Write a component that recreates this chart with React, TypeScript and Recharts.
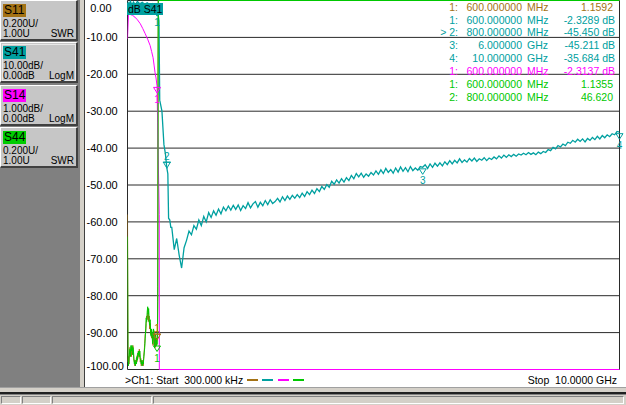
import React from 'react';
import { LineChart, Line, XAxis, YAxis, CartesianGrid, ReferenceDot } from 'recharts';

const FONT = '"Liberation Sans", Arial, sans-serif';

const C_S11 = '#a47214';
const C_S41 = '#00a0a0';
const C_S14 = '#ff00ff';
const C_S44 = '#00c800';

// ---------- channel panels ----------
const CHANNELS = [
  { name: 'S11', scale: '0.200U/', ref: '1.00U', fmt: 'SWR', color: C_S11 },
  { name: 'S41', scale: '10.00dB/', ref: '0.00dB', fmt: 'LogM', color: C_S41 },
  { name: 'S14', scale: '1.000dB/', ref: '0.00dB', fmt: 'LogM', color: C_S14 },
  { name: 'S44', scale: '0.200U/', ref: '1.00U', fmt: 'SWR', color: '#00cc00' },
];

// ---------- axes ----------
const Y_TICKS = [0, -10, -20, -30, -40, -50, -60, -70, -80, -90, -100];
const X_TICKS = [0, 1, 2, 3, 4, 5, 6, 7, 8, 9, 10];
const START_LABEL = '>Ch1: Start  300.000 kHz';
const STOP_LABEL = 'Stop  10.0000 GHz';

// ---------- S41 (dB, 10 dB/div) ----------
const S41_LOW: [number, number][] = [
  [0.0003, -0.3], [0.03, -1.0], [0.06, -0.2], [0.09, -1.3], [0.12, -0.4], [0.16, -1.1],
  [0.2, -0.3], [0.25, -0.9], [0.3, -0.5], [0.35, -1.0], [0.4, -0.6], [0.45, -1.1],
  [0.5, -0.8], [0.55, -1.4], [0.6, -2.3289], [0.625, -4], [0.64, -5.5], [0.655, -27],
  [0.7, -30], [0.74, -39], [0.77, -41.5], [0.8, -45.45], [0.82, -47], [0.835, -59],
  [0.86, -59.5], [0.88, -61.5],
];
const S41_SWEEP_START = 0.9;
const S41_SWEEP_STEP = 0.05;
const S41_SWEEP = [
  -61.5, -67.5, -64.5, -69, -72.5, -67, -65, -62.5, -63.5, -61,
  -62, -59.5, -61, -58.5, -60, -57.5, -58.8, -57, -58.2, -56.5,
  -57.8, -56, -57, -55.7, -56.8, -55.5, -56.6, -55.4, -56.9, -55.6,
  -56.4, -54.8, -56.2, -55.1, -54.5, -56, -54.7, -55.6, -54.2, -55.3,
  -54, -55, -54.5, -53.6, -54.6, -53.2, -54.2, -53, -53.9, -52.8,
  -53.6, -52.6, -53.4, -52.2, -53.1, -51.8, -52.6, -51.4, -52.3, -51,
  -51.8, -50.4, -51.2, -49.9, -50.6, -49, -49.8, -48.6, -49.5, -48.3,
  -49.2, -48, -48.8, -47.4, -48.3, -46.9, -47.8, -46.8, -47.9, -47,
  -47.6, -46.6, -47.3, -46.2, -47.1, -45.9, -46.9, -45.5, -46.6, -45.8,
  -46.8, -45.4, -46.5, -45.1, -46.3, -45.3, -46.4, -45, -46.1, -45.4,
  -46, -45, -45.2, -44.5, -45.5, -44.3, -45.2, -44.1, -44.9, -44,
  -44.8, -43.7, -44.5, -43.4, -44.3, -43.3, -44, -42.9, -43.9, -43.2,
  -43.8, -42.8, -43.5, -42.7, -43.6, -42.9, -43.3, -42.6, -43.4, -42.7,
  -43.1, -42.4, -42.9, -42.1, -42.7, -41.9, -42.5, -41.8, -42.3, -41.7,
  -42.2, -41.6, -41.9, -41.4, -41.8, -41.2, -41.7, -41.3, -41.8, -41.1,
  -41.5, -40.9, -41.2, -40.4, -40.7, -39.8, -40.2, -39.3, -39.7, -38.9,
  -39.3, -38.4, -38.7, -37.9, -38.4, -37.6, -38.2, -37.5, -38.3, -37.4,
  -37.9, -37.1, -37.7, -36.8, -37.5, -36.6, -37.2, -36.4, -36.9, -36.1,
  -36.4, -35.5, -35.684,
];

// ---------- S14 (dB, 1 dB/div) ----------
const S14_TRACE: [number, number][] = [
  [0.0003, -1.04], [0.02, -0.36], [0.06, -0.38], [0.1, -0.4], [0.15, -0.45], [0.2, -0.52],
  [0.26, -0.63], [0.31, -0.76], [0.36, -0.9], [0.41, -1.05], [0.46, -1.22], [0.49, -1.38],
  [0.52, -1.55], [0.54, -1.75], [0.56, -1.96], [0.58, -2.1], [0.6, -2.3137], [0.612, -3.3],
  [0.645, -5.8], [0.647, -10], [10, -10],
];

// ---------- S11 (SWR, 0.2 U/div) ----------
const S11_TRACE: [number, number][] = [
  [0.0003, 1.84], [0.01, 1.04], [0.02, 1.07], [0.03, 1.03], [0.04, 1.08], [0.05, 1.12],
  [0.06, 1.09], [0.07, 1.11], [0.08, 1.07], [0.09, 1.12], [0.1, 1.1], [0.11, 1.13],
  [0.12, 1.09], [0.13, 1.05], [0.14, 1.04], [0.15, 1.02], [0.16, 1.05], [0.17, 1.03],
  [0.18, 1.06], [0.19, 1.04], [0.2, 1.08], [0.21, 1.06], [0.22, 1.1], [0.23, 1.07],
  [0.24, 1.11], [0.25, 1.08], [0.26, 1.04], [0.27, 1.06], [0.28, 1.02], [0.29, 1.04],
  [0.3, 1.03], [0.31, 1.05], [0.32, 1.02], [0.33, 1.07], [0.34, 1.1], [0.35, 1.14],
  [0.36, 1.19], [0.37, 1.2], [0.38, 1.25], [0.39, 1.29], [0.4, 1.27], [0.41, 1.3],
  [0.42, 1.33], [0.43, 1.26], [0.44, 1.29], [0.45, 1.22], [0.46, 1.25], [0.47, 1.19],
  [0.48, 1.21], [0.49, 1.17], [0.5, 1.2], [0.51, 1.16], [0.52, 1.13], [0.53, 1.18],
  [0.54, 1.21], [0.55, 1.14], [0.56, 1.17], [0.57, 1.12], [0.58, 1.16], [0.59, 1.13],
  [0.6, 1.1592], [0.61, 1.22], [0.615, 1.45], [0.62, 2.65], [0.625, 3], [10, 3],
];

// ---------- S44 (SWR, 0.2 U/div) ----------
const S44_TRACE: [number, number][] = [
  [0.0003, 1.72], [0.01, 1.05], [0.02, 1.02], [0.03, 1.06], [0.04, 1.09], [0.05, 1.11],
  [0.06, 1.07], [0.07, 1.13], [0.08, 1.1], [0.09, 1.13], [0.1, 1.08], [0.11, 1.12],
  [0.12, 1.11], [0.13, 1.06], [0.14, 1.03], [0.15, 1.05], [0.16, 1.02], [0.17, 1.04],
  [0.18, 1.03], [0.19, 1.07], [0.2, 1.05], [0.21, 1.09], [0.22, 1.08], [0.23, 1.1],
  [0.24, 1.07], [0.25, 1.1], [0.26, 1.06], [0.27, 1.05], [0.28, 1.03], [0.29, 1.05],
  [0.3, 1.02], [0.31, 1.04], [0.32, 1.03], [0.33, 1.06], [0.34, 1.09], [0.35, 1.12],
  [0.36, 1.17], [0.37, 1.22], [0.38, 1.28], [0.39, 1.26], [0.4, 1.31], [0.41, 1.34],
  [0.42, 1.3], [0.43, 1.33], [0.44, 1.27], [0.45, 1.24], [0.46, 1.27], [0.47, 1.21],
  [0.48, 1.18], [0.49, 1.22], [0.5, 1.19], [0.51, 1.14], [0.52, 1.2], [0.53, 1.22],
  [0.54, 1.16], [0.55, 1.12], [0.56, 1.15], [0.57, 1.19], [0.58, 1.13], [0.59, 1.17],
  [0.6, 1.1355], [0.61, 1.2], [0.615, 1.37], [0.625, 3], [10, 3],
];

// ---------- markers ----------
const MARKERS_S11 = [{ n: '1', f: 0.6, v: 1.1592, active: true }];
const MARKERS_S41 = [
  { n: '1', f: 0.6, v: -2.3289, active: false },
  { n: '2', f: 0.8, v: -45.45, active: true },
  { n: '3', f: 6, v: -45.211, active: false },
  { n: '4', f: 10, v: -35.684, active: false },
];
const MARKERS_S14 = [{ n: '1', f: 0.6, v: -2.3137, active: false }];
const MARKERS_S44 = [
  { n: '1', f: 0.6, v: 1.1355, active: false },
  { n: '2', f: 0.8, v: 46.62, active: false },
];

const READOUT = [
  { color: C_S11, num: '1:', freq: '600.000000', unit: 'MHz', value: '1.1592', db: false },
  { color: C_S41, num: '1:', freq: '600.000000', unit: 'MHz', value: '-2.3289 dB', db: true },
  { color: C_S41, num: '> 2:', freq: '800.000000', unit: 'MHz', value: '-45.450 dB', db: true },
  { color: C_S41, num: '3:', freq: '6.000000', unit: 'GHz', value: '-45.211 dB', db: true },
  { color: C_S41, num: '4:', freq: '10.000000', unit: 'GHz', value: '-35.684 dB', db: true },
  { color: C_S14, num: '1:', freq: '600.000000', unit: 'MHz', value: '-2.3137 dB', db: true },
  { color: C_S44, num: '1:', freq: '600.000000', unit: 'MHz', value: '1.1355', db: false },
  { color: C_S44, num: '2:', freq: '800.000000', unit: 'MHz', value: '46.620', db: false },
];

const LEGEND_COLORS = [C_S11, C_S41, C_S14, C_S44];

const toPts = (arr: [number, number][]) => arr.map(([f, v]) => ({ f, v }));
const s41Data = [
  ...toPts(S41_LOW),
  ...S41_SWEEP.map((v, i) => ({ f: Math.round((S41_SWEEP_START + i * S41_SWEEP_STEP) * 1000) / 1000, v })),
];
const s14Data = toPts(S14_TRACE);
const s11Data = toPts(S11_TRACE);
const s44Data = toPts(S44_TRACE);

const YTick = (props: any) => {
  const { y, payload } = props;
  const v = payload.value as number;
  const cy = Math.min(Math.max(y, 8), 366);
  return (
    <text x={v === 0 ? 90.2 : 86.5} y={cy + 4} fontSize={11} fontFamily={FONT} fill="#000">
      {v.toFixed(2)}
    </text>
  );
};

const markerShape = (color: string, label: string, active: boolean) => (props: any) => {
  const { cx, cy } = props;
  if (cx == null || cy == null || isNaN(cx) || isNaN(cy)) return <g />;
  if (active) {
    return (
      <g>
        <line x1={cx - 4} x2={cx + 4} y1={cy - 6} y2={cy - 6} stroke={color} />
        <polygon points={`${cx - 3.5},${cy - 6} ${cx + 3.5},${cy - 6} ${cx},${cy}`} fill="none" stroke={color} />
        <text x={cx} y={cy - 8} textAnchor="middle" fill={color} fontSize={10} fontFamily={FONT}>{label}</text>
      </g>
    );
  }
  return (
    <g>
      <polygon points={`${cx - 3.5},${cy + 1.5} ${cx + 3.5},${cy + 1.5} ${cx},${cy + 7}`} fill="none" stroke={color} />
      <text x={cx} y={cy + 17} textAnchor="middle" fill={color} fontSize={10} fontFamily={FONT}>{label}</text>
    </g>
  );
};

const renderMarkers = (list: any[], axisId: string, color: string, key: string) =>
  list.map((m) => (
    <ReferenceDot
      key={key + m.n}
      x={m.f}
      y={m.v}
      yAxisId={axisId}
      r={3}
      ifOverflow="discard"
      shape={markerShape(color, m.n, m.active)}
    />
  ));

const ChannelBox = ({ ch, top, selected }: any) => (
  <div
    style={{
      position: 'absolute', left: 0, top, width: 78, height: 41, boxSizing: 'border-box',
      background: '#c6c6c6',
      borderTop: '1px solid #ffffff', borderLeft: '1px solid #ffffff',
      borderRight: '2px solid #404040', borderBottom: '2px solid #404040',
      outline: selected ? '1px solid #e8e8e8' : 'none', outlineOffset: -3,
      fontFamily: FONT, color: '#000',
    }}
  >
    <div style={{ position: 'absolute', left: 2, top: 3, width: 23, height: 13, background: ch.color }} />
    <div style={{ position: 'absolute', left: 3, top: 2, fontSize: 12, lineHeight: '14px' }}>{ch.name}</div>
    <div style={{ position: 'absolute', left: 2, top: 18, fontSize: 10, lineHeight: '10px' }}>{ch.scale}</div>
    <div style={{ position: 'absolute', left: 2, top: 28, fontSize: 10, lineHeight: '10px' }}>{ch.ref}</div>
    <div style={{ position: 'absolute', right: 2, top: 28, fontSize: 10, lineHeight: '10px' }}>{ch.fmt}</div>
  </div>
);

export default function App() {
  return (
    <div style={{ position: 'fixed', left: 0, top: 0, width: 626, height: 405, overflow: 'hidden', background: '#d4d0c8', fontFamily: FONT }}>
      {/* left gray panel */}
      <div style={{ position: 'absolute', left: 0, top: 0, width: 80, height: 387, background: '#808080' }} />
      {CHANNELS.map((ch, i) => (
        <ChannelBox key={ch.name} ch={ch} top={i * 42.3} selected={i === 1} />
      ))}
      {/* separator */}
      <div style={{ position: 'absolute', left: 84, top: 0, width: 1, height: 387, background: '#404040' }} />
      {/* white chart area */}
      <div style={{ position: 'absolute', left: 85, top: 0, width: 541, height: 387, background: '#ffffff' }} />
      {/* bottom bars */}
      <div style={{ position: 'absolute', left: 0, top: 387, width: 626, height: 1, background: '#a0a0a0' }} />
      <div style={{ position: 'absolute', left: 0, top: 392, width: 626, height: 2, background: '#202020' }} />
      <div style={{ position: 'absolute', left: 0, top: 394, width: 626, height: 1, background: '#808080' }} />
      {[[1, 20], [22, 29], [52, 100], [153, 471]].map(([l, w]) => (
        <div key={l} style={{ position: 'absolute', left: l, top: 396, width: w, height: 8, boxSizing: 'border-box', borderTop: '1px solid #808080', borderLeft: '1px solid #808080', borderRight: '1px solid #ffffff', borderBottom: '1px solid #ffffff' }} />
      ))}

      <div style={{ position: 'absolute', left: 0, top: 0 }}>
        <LineChart width={626} height={388} margin={{ top: 0.5, right: 6.5, bottom: 18.5, left: 86 }}>
          <CartesianGrid yAxisId="db" stroke="#2a2a2a" strokeWidth={1} />
          <XAxis type="number" dataKey="f" domain={[0, 10]} ticks={X_TICKS} height={0} tick={false} axisLine={false} tickLine={false} allowDataOverflow />
          <YAxis yAxisId="db" type="number" domain={[-100, 0]} ticks={Y_TICKS} interval={0} width={41.5} axisLine={false} tickLine={false} tick={<YTick />} />
          <YAxis yAxisId="db1" type="number" domain={[-10, 0]} hide />
          <YAxis yAxisId="swr" type="number" domain={[1, 3]} hide />
          <Line yAxisId="swr" data={s11Data} dataKey="v" stroke={C_S11} strokeWidth={1} dot={false} isAnimationActive={false} />
          <Line yAxisId="db" data={s41Data} dataKey="v" stroke={C_S41} strokeWidth={1.3} dot={false} isAnimationActive={false} />
          <Line yAxisId="db1" data={s14Data} dataKey="v" stroke={C_S14} strokeWidth={1} dot={false} isAnimationActive={false} />
          <Line yAxisId="swr" data={s44Data} dataKey="v" stroke={C_S44} strokeWidth={1} dot={false} isAnimationActive={false} />
          {renderMarkers(MARKERS_S11, 'swr', C_S11, 's11')}
          {renderMarkers(MARKERS_S41, 'db', C_S41, 's41')}
          {renderMarkers(MARKERS_S14, 'db1', C_S14, 's14')}
          {renderMarkers(MARKERS_S44, 'swr', C_S44, 's44')}
        </LineChart>
      </div>

      {/* trace label */}
      <div style={{ position: 'absolute', left: 127, top: 3, width: 36, height: 12, background: C_S41, color: '#000', fontSize: 10.5, lineHeight: '12px', paddingLeft: 1, boxSizing: 'border-box', whiteSpace: 'nowrap' }}>dB S41</div>

      {/* marker readout */}
      {READOUT.map((r, i) => {
        const top = 0.6 + i * 12.9;
        const base = { position: 'absolute' as const, top, fontSize: 10.5, lineHeight: '13px', color: r.color, whiteSpace: 'nowrap' as const };
        return (
          <React.Fragment key={i}>
            <div style={{ ...base, right: 626 - 458, textAlign: 'right' }}>{r.num}</div>
            <div style={{ ...base, right: 626 - 522, textAlign: 'right' }}>{r.freq}</div>
            <div style={{ ...base, left: 527 }}>{r.unit}</div>
            <div style={{ ...base, right: r.db ? 626 - 615 : 626 - 613, textAlign: 'right' }}>{r.value}</div>
          </React.Fragment>
        );
      })}

      {/* bottom annotations */}
      <div style={{ position: 'absolute', left: 125, top: 373.6, fontSize: 10.5, lineHeight: '13px', color: '#000', whiteSpace: 'pre' }}>{START_LABEL}</div>
      {LEGEND_COLORS.map((c, i) => (
        <div key={c} style={{ position: 'absolute', left: 247 + i * 15.3, top: 378.5, width: 11, height: 2, background: c }} />
      ))}
      <div style={{ position: 'absolute', right: 626 - 617, top: 373.6, fontSize: 10.5, lineHeight: '13px', color: '#000', whiteSpace: 'pre' }}>{STOP_LABEL}</div>
    </div>
  );
}
